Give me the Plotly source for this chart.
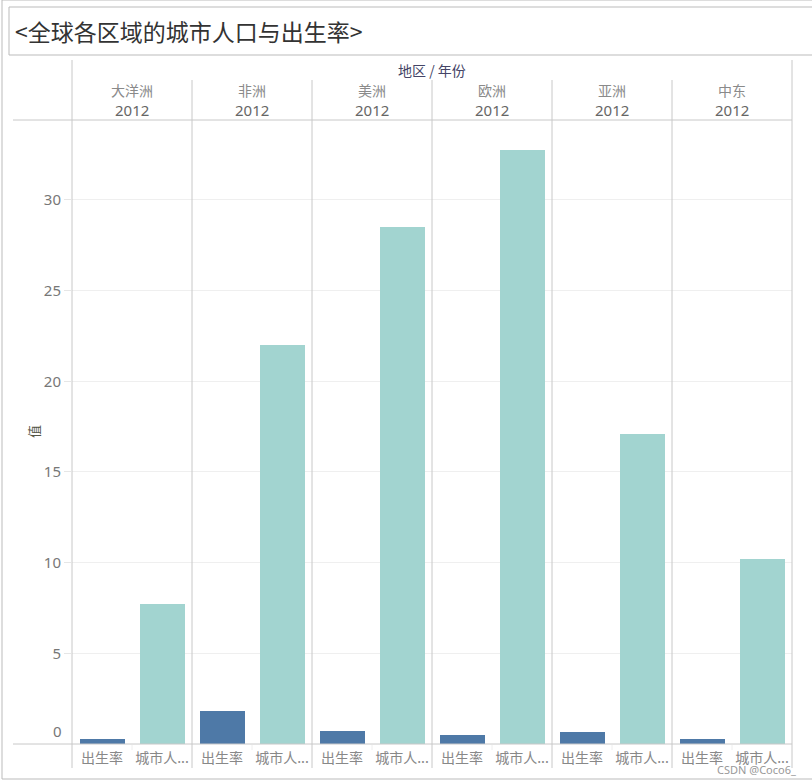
import plotly.graph_objects as go
from plotly.subplots import make_subplots

# ---- data ----
regions = ["大洋洲", "非洲", "美洲", "欧洲", "亚洲", "中东"]
years = ["2012", "2012", "2012", "2012", "2012", "2012"]
measures = ["出生率", "城市人口"]
measure_labels = ["出生率", "城市人..."]
birth_rate = [0.27, 1.82, 0.72, 0.50, 0.66, 0.28]
urban_pop = [7.72, 22.0, 28.5, 32.76, 17.1, 10.2]
y_ticks = [5, 10, 15, 20, 25, 30]

# ---- layout constants (pixels) ----
W, H = 812, 781
L, R, T, B = 72, 20, 120, 37
PW = W - L - R
PH = H - T - B
n = len(regions)
Y_MAX = 34.41

def px(x):
    return (x - L) / PW

def py(y):
    return (H - B - y) / PH

COL_BIRTH = "#4e79a7"
COL_URBAN = "#a2d4d0"
LINE = "#c8c8c8"
FONT = "Noto Sans, Noto Sans CJK SC, sans-serif"
CJK = "Noto Sans CJK SC, sans-serif"

fig = make_subplots(rows=1, cols=n, shared_yaxes=True, horizontal_spacing=0)

for i in range(n):
    fig.add_trace(
        go.Bar(
            x=measures,
            y=[birth_rate[i], urban_pop[i]],
            marker=dict(color=[COL_BIRTH, COL_URBAN], line=dict(width=0)),
            width=0.75,
            showlegend=False,
            hoverinfo="x+y",
        ),
        row=1, col=i + 1,
    )
    xa = "xaxis" if i == 0 else f"xaxis{i+1}"
    ya = "yaxis" if i == 0 else f"yaxis{i+1}"
    fig.layout[xa].update(
        domain=[i / n, (i + 1) / n],
        type="category",
        categoryorder="array",
        categoryarray=measures,
        tickvals=measures,
        ticktext=measure_labels,
        range=[-0.5, 1.5],
        showgrid=False,
        zeroline=False,
        showline=False,
        ticks="",
        ticklabelstandoff=4,
        tickfont=dict(family=CJK, size=14, color="#888888"),
        fixedrange=True,
    )
    fig.layout[ya].update(
        range=[0, Y_MAX],
        tickvals=y_ticks,
        showgrid=True,
        gridcolor="#efefef",
        gridwidth=1,
        zeroline=False,
        showline=False,
        showticklabels=(i == 0),
        ticks="outside" if i == 0 else "",
        ticklen=7,
        tickcolor="#e6e6e6",
        tickfont=dict(family=FONT, size=15, color="#777777"),
        fixedrange=True,
    )

shapes = []
# outer frame
shapes.append(dict(type="rect", xref="paper", yref="paper",
                   x0=px(2), x1=px(830), y0=py(0), y1=py(779),
                   line=dict(color="#bbbbbb", width=1)))
# title box
shapes.append(dict(type="rect", xref="paper", yref="paper",
                   x0=px(9), x1=px(830), y0=py(7), y1=py(55),
                   line=dict(color="#bbbbbb", width=1)))
# vertical separators
for i in range(n + 1):
    xx = L + i * PW / n
    top = 60 if i in (0, n) else 80
    shapes.append(dict(type="line", xref="paper", yref="paper",
                       x0=px(xx), x1=px(xx), y0=py(top), y1=py(768),
                       line=dict(color=LINE, width=1)))
# header bottom line and baseline
for yy in (120, 744):
    shapes.append(dict(type="line", xref="paper", yref="paper",
                       x0=px(13), x1=px(L + PW), y0=py(yy), y1=py(yy),
                       line=dict(color=LINE, width=1)))
# small ticks between measure labels
for i in range(n):
    xx = L + i * PW / n + PW / n / 2
    shapes.append(dict(type="line", xref="paper", yref="paper",
                       x0=px(xx), x1=px(xx), y0=py(745), y1=py(750),
                       line=dict(color="#eeeeee", width=1)))

annotations = []
annotations.append(dict(text="<全球各区域的城市人口与出生率>", xref="paper", yref="paper",
                        x=px(13), y=py(31), xanchor="left", yanchor="middle",
                        showarrow=False, font=dict(family=CJK, size=23, color="#333333")))
annotations.append(dict(text="地区 / 年份", xref="paper", yref="paper",
                        x=px(432), y=py(70), xanchor="center", yanchor="middle",
                        showarrow=False, font=dict(family=CJK, size=14, color="#444466")))
for i in range(n):
    cx = px(L + (i + 0.5) * PW / n)
    annotations.append(dict(text=regions[i], xref="paper", yref="paper",
                            x=cx, y=py(90), xanchor="center", yanchor="middle",
                            showarrow=False, font=dict(family=CJK, size=14, color="#8a8a8a")))
    annotations.append(dict(text=years[i], xref="paper", yref="paper",
                            x=cx, y=py(110), xanchor="center", yanchor="middle",
                            showarrow=False, font=dict(family=FONT, size=15, color="#666666")))
# zero tick label (Tableau places it just above the baseline)
annotations.append(dict(text="0", xref="paper", yref="y", x=px(64), y=0,
                        xanchor="right", yanchor="bottom", yshift=1,
                        showarrow=False, font=dict(family=FONT, size=15, color="#777777")))
# y axis title
annotations.append(dict(text="值", xref="paper", yref="paper", x=px(33), y=py(432),
                        xanchor="center", yanchor="middle", textangle=-90,
                        showarrow=False, font=dict(family=CJK, size=13, color="#555544")))
# watermark
annotations.append(dict(text="CSDN @Coco6_", xref="paper", yref="paper", x=px(798), y=py(769),
                        xanchor="right", yanchor="middle",
                        showarrow=False, font=dict(family=FONT, size=11, color="#999999")))

fig.update_layout(
    width=W, height=H,
    margin=dict(l=L, r=R, t=T, b=B),
    paper_bgcolor="white",
    plot_bgcolor="white",
    bargap=0,
    shapes=shapes,
    annotations=annotations,
    font=dict(family=FONT),
)

fig.write_html("out.html")
